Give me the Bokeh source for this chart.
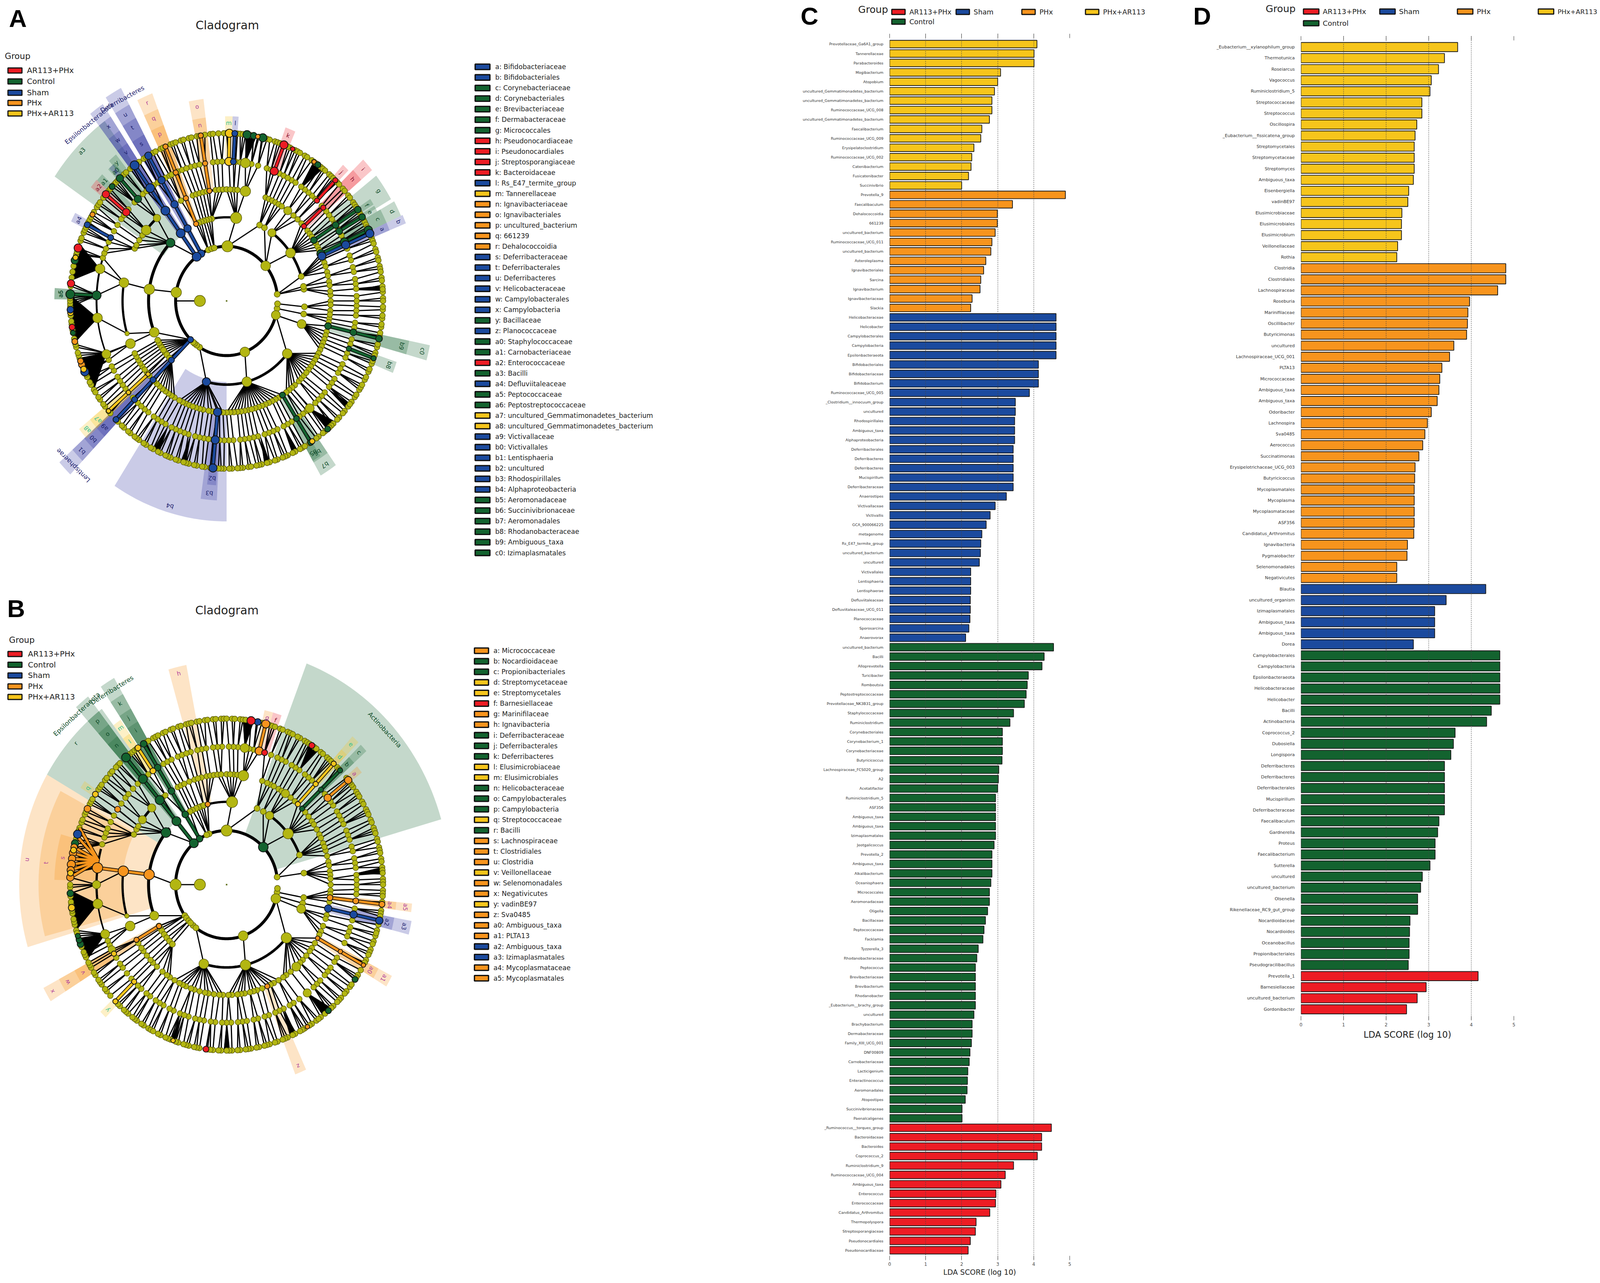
import numpy as np
from bokeh.core.properties import value
from bokeh.embed import file_html
from bokeh.layouts import column, row
from bokeh.models import AllLabels, ColumnDataSource, FixedTicker, Grid, LinearAxis, Range1d
from bokeh.plotting import figure
from bokeh.resources import INLINE

# ---------- bar data, panel C ----------
C_yellow_names = ["Prevotellaceae_Ga6A1_group", "Tannerellaceae", "Parabacteroides", "Mogibacterium", "Atopobium",
    "uncultured_Gemmatimonadetes_bacterium", "uncultured_Gemmatimonadetes_bacterium", "Ruminococcaceae_UCG_008",
    "uncultured_Gemmatimonadetes_bacterium", "Faecalibacterium", "Ruminococcaceae_UCG_009", "Erysipelatoclostridium",
    "Ruminococcaceae_UCG_002", "Catenibacterium", "Fusicatenibacter", "Succinivibrio"]
C_yellow_vals = [4.09, 4.01, 4.01, 3.08, 3.00, 2.91, 2.84, 2.84, 2.77, 2.56, 2.53, 2.34, 2.28, 2.26, 2.19, 2.00]
C_orange_names = ["Prevotella_9", "Faecalibaculum", "Dehalococcoidia", "661239", "uncultured_bacterium",
    "Ruminococcaceae_UCG_011", "uncultured_bacterium", "Asteroleplasma", "Ignavibacteriales", "Sarcina",
    "Ignavibacterium", "Ignavibacteriaceae", "Slackia"]
C_orange_vals = [4.88, 3.41, 2.99, 2.99, 2.93, 2.84, 2.81, 2.67, 2.61, 2.53, 2.51, 2.29, 2.25]
C_blue_names = ["Helicobacteraceae", "Helicobacter", "Campylobacterales", "Campylobacteria", "Epsilonbacteraeota",
    "Bifidobacteriales", "Bifidobacteriaceae", "Bifidobacterium", "Ruminococcaceae_UCG_005",
    "_Clostridium__innocuum_group", "uncultured", "Rhodospirillales", "Ambiguous_taxa", "Alphaproteobacteria",
    "Deferribacterales", "Deferribacteres", "Deferribacteres", "Mucispirillum", "Deferribacteraceae", "Anaerostipes",
    "Victivallaceae", "Victivallis", "GCA_900066225", "metagenome", "Rs_E47_termite_group", "uncultured_bacterium",
    "uncultured", "Victivallales", "Lentisphaeria", "Lentisphaerae", "Defluviitaleaceae",
    "Defluviitaleaceae_UCG_011", "Planococcaceae", "Sporosarcina", "Anaerovorax"]
C_blue_vals = [4.62, 4.62, 4.62, 4.62, 4.62, 4.13, 4.13, 4.13, 3.88, 3.49, 3.49, 3.47, 3.47, 3.47, 3.43, 3.43, 3.43,
    3.43, 3.43, 3.24, 2.93, 2.79, 2.68, 2.56, 2.53, 2.52, 2.49, 2.25, 2.25, 2.25, 2.24, 2.24, 2.23, 2.20, 2.11]
C_green_names = ["uncultured_bacterium", "Bacilli", "Alloprevotella", "Turicibacter", "Romboutsia",
    "Peptostreptococcaceae", "Prevotellaceae_NK3B31_group", "Staphylococcaceae", "Ruminiclostridium",
    "Corynebacteriales", "Corynebacterium_1", "Corynebacteriaceae", "Butyricicoccus", "Lachnospiraceae_FCS020_group",
    "A2", "Acetatifactor", "Ruminiclostridium_5", "ASF356", "Ambiguous_taxa", "Ambiguous_taxa", "Izimaplasmatales",
    "Jeotgalicoccus", "Prevotella_2", "Ambiguous_taxa", "Alkalibacterium", "Oceanisphaera", "Micrococcales",
    "Aeromonadaceae", "Oligella", "Bacillaceae", "Peptococcaceae", "Facklamia", "Tyzzerella_3", "Rhodanobacteraceae",
    "Peptococcus", "Brevibacteriaceae", "Brevibacterium", "Rhodanobacter", "_Eubacterium__brachy_group", "uncultured",
    "Brachybacterium", "Dermabacteraceae", "Family_XIII_UCG_001", "DNF00809", "Carnobacteriaceae", "Lacticigenium",
    "Enteractinococcus", "Aeromonadales", "Atopostipes", "Succinivibrionaceae", "Paenalcaligenes"]
C_green_vals = [4.55, 4.29, 4.23, 3.85, 3.82, 3.79, 3.74, 3.44, 3.34, 3.13, 3.13, 3.13, 3.12, 3.03, 3.02, 3.00, 2.94,
    2.94, 2.94, 2.94, 2.94, 2.90, 2.84, 2.84, 2.84, 2.81, 2.77, 2.77, 2.72, 2.66, 2.62, 2.59, 2.46, 2.42, 2.38, 2.38,
    2.38, 2.38, 2.38, 2.34, 2.29, 2.29, 2.27, 2.23, 2.21, 2.17, 2.16, 2.15, 2.10, 2.01, 2.01]
C_red_names = ["_Ruminococcus__torques_group", "Bacteroidaceae", "Bacteroides", "Coprococcus_2", "Ruminiclostridium_9",
    "Ruminococcaceae_UCG_004", "Ambiguous_taxa", "Enterococcus", "Enterococcaceae", "Candidatus_Arthromitus",
    "Thermopolyspora", "Streptosporangiaceae", "Pseudonocardiales", "Pseudonocardiaceae"]
C_red_vals = [4.49, 4.22, 4.22, 4.10, 3.44, 3.21, 3.09, 2.95, 2.94, 2.78, 2.40, 2.38, 2.24, 2.18]

# ---------- bar data, panel D ----------
D_yellow_names = ["_Eubacterium__xylanophilum_group", "Thermotunica", "Roseiarcus", "Vagococcus", "Ruminiclostridium_5",
    "Streptococcaceae", "Streptococcus", "Oscillospira", "_Eubacterium__fissicatena_group", "Streptomycetales",
    "Streptomycetaceae", "Streptomyces", "Ambiguous_taxa", "Eisenbergiella", "vadinBE97", "Elusimicrobiaceae",
    "Elusimicrobiales", "Elusimicrobium", "Veillonellaceae", "Rothia"]
D_yellow_vals = [3.68, 3.37, 3.23, 3.06, 3.03, 2.84, 2.84, 2.72, 2.68, 2.66, 2.66, 2.66, 2.64, 2.53, 2.51, 2.37, 2.36,
    2.36, 2.27, 2.25]
D_orange_names = ["Clostridia", "Clostridiales", "Lachnospiraceae", "Roseburia", "Marinifilaceae", "Oscillibacter",
    "Butyricimonas", "uncultured", "Lachnospiraceae_UCG_001", "PLTA13", "Micrococcaceae", "Ambiguous_taxa",
    "Ambiguous_taxa", "Odoribacter", "Lachnospira", "Sva0485", "Aerococcus", "Succinatimonas",
    "Erysipelotrichaceae_UCG_003", "Butyricicoccus", "Mycoplasmatales", "Mycoplasma", "Mycoplasmataceae", "ASF356",
    "Candidatus_Arthromitus", "Ignavibacteria", "Pygmaiobacter", "Selenomonadales", "Negativicutes"]
D_orange_vals = [4.81, 4.81, 4.62, 3.96, 3.92, 3.91, 3.89, 3.59, 3.49, 3.31, 3.26, 3.24, 3.20, 3.06, 2.97, 2.91, 2.86,
    2.77, 2.68, 2.67, 2.66, 2.66, 2.66, 2.66, 2.65, 2.50, 2.49, 2.25, 2.25]
D_blue_names = ["Blautia", "uncultured_organism", "Izimaplasmatales", "Ambiguous_taxa", "Ambiguous_taxa", "Dorea"]
D_blue_vals = [4.34, 3.41, 3.14, 3.14, 3.14, 2.64]
D_green_names = ["Campylobacterales", "Campylobacteria", "Epsilonbacteraeota", "Helicobacteraceae", "Helicobacter",
    "Bacilli", "Actinobacteria", "Coprococcus_2", "Dubosiella", "Longispora", "Deferribacteres", "Deferribacteres",
    "Deferribacterales", "Mucispirillum", "Deferribacteraceae", "Faecalibaculum", "Gardnerella", "Proteus",
    "Faecalibacterium", "Sutterella", "uncultured", "uncultured_bacterium", "Olsenella", "Rikenellaceae_RC9_gut_group",
    "Nocardioidaceae", "Nocardioides", "Oceanobacillus", "Propionibacteriales", "Pseudogracilibacillus"]
D_green_vals = [4.67, 4.67, 4.67, 4.67, 4.67, 4.47, 4.36, 3.62, 3.58, 3.52, 3.37, 3.37, 3.37, 3.37, 3.37, 3.24, 3.21,
    3.15, 3.15, 3.03, 2.85, 2.81, 2.74, 2.74, 2.56, 2.55, 2.54, 2.54, 2.52]
D_red_names = ["Prevotella_1", "Barnesiellaceae", "uncultured_bacterium", "Gordonibacter"]
D_red_vals = [4.16, 2.94, 2.73, 2.48]

# ---------- side legends ----------
A_side_names = ["a: Bifidobacteriaceae", "b: Bifidobacteriales", "c: Corynebacteriaceae", "d: Corynebacteriales",
    "e: Brevibacteriaceae", "f: Dermabacteraceae", "g: Micrococcales", "h: Pseudonocardiaceae", "i: Pseudonocardiales",
    "j: Streptosporangiaceae", "k: Bacteroidaceae", "l: Rs_E47_termite_group", "m: Tannerellaceae",
    "n: Ignavibacteriaceae", "o: Ignavibacteriales", "p: uncultured_bacterium", "q: 661239", "r: Dehalococcoidia",
    "s: Deferribacteraceae", "t: Deferribacterales", "u: Deferribacteres", "v: Helicobacteraceae",
    "w: Campylobacterales", "x: Campylobacteria", "y: Bacillaceae", "z: Planococcaceae", "a0: Staphylococcaceae",
    "a1: Carnobacteriaceae", "a2: Enterococcaceae", "a3: Bacilli", "a4: Defluviitaleaceae", "a5: Peptococcaceae",
    "a6: Peptostreptococcaceae", "a7: uncultured_Gemmatimonadetes_bacterium",
    "a8: uncultured_Gemmatimonadetes_bacterium", "a9: Victivallaceae", "b0: Victivallales", "b1: Lentisphaeria",
    "b2: uncultured", "b3: Rhodospirillales", "b4: Alphaproteobacteria", "b5: Aeromonadaceae",
    "b6: Succinivibrionaceae", "b7: Aeromonadales", "b8: Rhodanobacteraceae", "b9: Ambiguous_taxa",
    "c0: Izimaplasmatales"]
A_side_groups = list("BBGGGGGRRRRBYOOOOOBBBBBBGBGGRGBGGYYBBBBBBGGGGGG")
B_side_names = ["a: Micrococcaceae", "b: Nocardioidaceae", "c: Propionibacteriales", "d: Streptomycetaceae",
    "e: Streptomycetales", "f: Barnesiellaceae", "g: Marinifilaceae", "h: Ignavibacteria", "i: Deferribacteraceae",
    "j: Deferribacterales", "k: Deferribacteres", "l: Elusimicrobiaceae", "m: Elusimicrobiales", "n: Helicobacteraceae",
    "o: Campylobacterales", "p: Campylobacteria", "q: Streptococcaceae", "r: Bacilli", "s: Lachnospiraceae",
    "t: Clostridiales", "u: Clostridia", "v: Veillonellaceae", "w: Selenomonadales", "x: Negativicutes", "y: vadinBE97",
    "z: Sva0485", "a0: Ambiguous_taxa", "a1: PLTA13", "a2: Ambiguous_taxa", "a3: Izimaplasmatales",
    "a4: Mycoplasmataceae", "a5: Mycoplasmatales"]
B_side_groups = list("OGGYYROOGGGYYGGGYGOOOYOOYOOOBBOO")
group_names = ["AR113+PHx", "Control", "Sham", "PHx", "PHx+AR113"]
group_keys = ["R", "G", "B", "O", "Y"]

# ---------- cladogram A: angles (deg) of the small olive nodes on each ring ----------
A_ring5 = [0,1,3,4,5,7,8,10,11,12,14,15,17,18,20,21,22,24,26,27,28,29,31,32,34,35,36,38,39,41,42,44,45,47,48,49,51,52,
    53,55,56,57,59,60,62,63,64,66,67,70,71,72,74,75,77,78,80,81,83,84,85,86,90,91,93,95,96,98,100,101,103,104,106,107,
    109,110,111,114,115,117,118,121,122,124,127,128,130,131,134,135,136,138,139,141,142,144,145,146,148,150,151,152,
    154,155,156,158,159,163,164,165,168,170,172,174,175,179,180,181,182,184,185,187,188,190,191,193,195,196,198,199,
    200,202,203,205,206,207,209,210,212,213,215,216,218,219,221,222,225,226,228,229,231,232,234,235,236,238,239,241,
    242,244,245,247,248,249,251,252,254,255,256,258,259,261,262,264,265,267,268,269,271,272,274,275,276,278,279,281,
    282,283,285,286,288,289,291,292,293,295,296,298,299,300,302,303,305,306,308,309,311,312,313,315,316,318,319,321,
    322,323,325,326,328,329,330,332,333,335,336,338,339,341,342,344,345,347,348,349,351,352,354,355,357,358]
A_ring4 = [0,2,5,7,9,12,14,17,19,22,26,28,31,34,36,38,40,43,47,49,51,53,55,58,60,62,64,66,70,72,76,79,84,86,92,94,96,102,
    104,106,108,110,112,115,116,118,122,124,128,130,135,139,142,144,147,150,155,158,160,162,202,205,208,210,213,215,
    217,219,221,224,227,229,231,233,236,238,240,242,245,247,249,251,253,256,258,260,262,264,267,269,271,273,276,278,
    280,282,284,287,289,291,293,296,298,300,304,306,308,310,313,315,317,319,322,324,326,329,331,333,336,338,342,344,
    347,349,351,354,356,358]
A_ring3 = [0,3,5,8,10,13,15,18,20,22,27,29,31,35,37,39,44,47,50,58,60,62,64,66,68,84,86,88,90,92,94,96,101,103,105,107,
    109,116,144,147,150,152,208,210,212,214,216,218,220,222,226,228,230,232,234,236,238,240,243,245,247,249,251,253,
    255,257,260,262,266,268,270,272,274,276,278,280,282,284,286,288,290,292,294,296,298,300,305,307,309,311,314,316,
    318,320,322,324,326,328,330,332,334,336,338,340,342,344,349,351,353,355,358]
A_ring2 = [101,103,105,107,109,111,65,61,17,10,8,356,351,208,210,212,214,216,218,220,223]
A_ring1 = [7,357,352,238,234,231,229,111,107,104]
# bigger olive nodes: ring index, angle, radius
A_big = [(0,180,15),(1,89,15),(1,40,13),(1,345,12),(1,291,13),(1,171,14),(2,83,15),(2,35,13),(2,344,12),(2,321,13),
    (2,285,13),(2,172,14),(2,202,13),(2,54.5,11),(3,79.6,14),(3,54,11),(3,170.6,13),(3,202.5,13),(3,140.6,13),
    (3,132,10),(3,197,6),(4,166.7,13),(4,187,13),(4,202.4,12),(4,81.7,13),(4,309.7,12)]
# black arcs: ring index, start, end, line width
A_arcs = [(1,7,345,8),(2,137,202,8),(2,83,113,6),(2,17,54.5,7),(2,254,321,7),(3,170.6,197,6),(3,132,140.6,7),
    (3,79.6,100,6),(3,54,66,4),(3,255,288,5),(3,288,318,5),(4,153,187,5),(4,187,205,4)]
# solid black fans: ring of apex, apex angle, base start, base end
A_fans = [(4,166.7,160,173),(4,187,178,194.4),(4,202.4,200,212),(4,81.7,79,83),(4,54.5,52,56),(4,309.7,310,314),
    (4,-116.6,-118,-115.5),(4,-106,-107,-105),(4,-75,-76,-74),(4,-64,-65,-63),(4,4.5,3.5,5.5),(4,-39,-40,-38)]
# coloured clades: group, ring from, ring to, angle, node radius
A_chains = [("B",1,5,120,10),("B",1,5,126,12),("O",2,5,113,7),("O",3,5,99.5,7),("Y",4,5,89,11),("B",4,5,87,8),
    ("R",4,5,68.5,11),("R",3,4,42,7),("R",4,5,46,7),("G",3,5,33,9),("G",4,5,30,9),("G",3,5,25,11),("B",3,5,23.7,11),
    ("G",3,5,-13,9),("G",4,5,-20,7),("G",3,5,-57.5,8),("B",3,5,-95,11),("B",1,5,-135,8),("Y",3,5,-139,6),
    ("G",4,5,133,10),("R",4,5,140.5,10),("B",4,5,153,8),("G",4,5,177.7,12)]
# single coloured nodes: group, ring, angle, radius
A_dots = [("B",2,-105,11),("G",2,136,12),("Y",5,-56.8,7),("G",5,-49.8,8),("R",5,65,6),("R",5,161.6,11),("G",5,166,10),
    ("R",5,174,10),("O",5,149,7),("B",5,-155,11),("O",5,-157.7,9),("O",5,-159,8),("Y",5,-156,8),("G",5,-169,7),
    ("R",5,-171,8),("Y",5,-176,8),("B",5,-177,9),("O",5,-166,8),("G",5,82.5,11),("G",5,80,9),("G",5,76.6,11),
    ("O",5,78.5,6),("O",5,56,6),("G",5,54.3,8),("G",5,137,8),("Y",5,165,7)]
# shaded sectors: group, letter, inner radius, outer radius, start, end
A_sectors = [("G","a3",215,590,126,146),("B","b4",215,585,-123,-90),("B","b3",296,530,-98,-93),
    ("B","b2",370,490,-96.5,-93.5),("B","",148,640,118,122.5),("B","u",222,590,118,122.5),("B","t",296,550,118,122.5),
    ("B","s",370,500,118,122.5),("B","",148,630,124,128),("B","x",222,590,124,128),("B","w",296,545,124,128),
    ("B","v",370,505,124,128),("O","r",222,590,111,115.5),("O","q",296,545,111,115.5),("O","p",370,500,111,115.5),
    ("O","o",296,540,97,101.5),("O","n",370,490,97,101.5),("Y","m",370,490,88,90.5),("B","l",370,490,86,88),
    ("R","k",370,490,66.5,70),("R","i",296,540,40,44),("R","h",370,500,40,44),("R","j",445,490,45,47.5),
    ("G","g",296,540,30,38),("G","f",445,490,31.5,33.5),("G","e",445,490,29,31),("G","d",296,545,24.5,29),
    ("G","c",370,500,24.5,29),("B","b",296,550,22,24.5),("B","a",370,500,22,24.5),("G","c0",296,590,-15.5,-11.5),
    ("G","b9",370,530,-15.5,-11.5),("G","b8",370,510,-22,-18.5),("G","b7",296,535,-60,-54.5),
    ("G","b6",370,495,-60,-54.5),("G","b5",445,490,-60,-57),("B","",148,640,-138,-134),("B","b1",222,590,-138,-134),
    ("B","b0",296,545,-138,-134),("B","a9",370,500,-138,-134),("Y","a8",296,540,-141,-137.5),
    ("Y","a7",370,500,-141,-137.5),("G","a6",370,490,176,179.5),("G","a5",370,490,176,179.5),
    ("B","a4",445,490,151.5,154.5),("R","a2",370,490,139,142),("G","a1",370,488,136.5,139),("G","a0",445,485,131,134),
    ("B","z",445,485,131.5,133.5),("G","y",370,500,129,132)]
A_names = [("Epsilonbacteraeota",612,129.7,"B"),("Deferribacteres",612,119,"B"),("Lentisphaerae",617,-135,"B")]

# ---------- cladogram B ----------
B_ring5 = [0,1,2,4,5,6,8,9,11,12,13,15,16,18,19,20,22,23,25,26,27,29,30,32,33,34,36,37,38,40,44,45,48,49,50,52,53,55,56,
    58,59,60,62,63,65,66,67,69,70,72,73,74,77,79,83,84,85,87,88,90,91,92,94,95,97,98,100,101,103,104,105,107,108,110,
    111,113,114,116,117,118,120,121,125,126,127,128,133,134,135,137,138,140,141,143,144,145,149,150,151,154,155,157,
    158,160,161,164,180,181,183,184,186,187,189,190,192,193,194,196,197,199,200,201,202,204,205,206,208,209,210,212,
    213,215,216,217,219,220,222,226,227,229,230,231,233,234,235,237,238,240,241,242,244,245,247,248,249,251,252,254,
    255,256,258,259,260,263,264,265,267,268,270,271,272,274,275,277,278,279,281,282,284,285,286,288,289,291,292,293,
    295,296,298,299,300,302,303,305,306,307,309,312,313,315,316,317,319,320,322,323,325,326,327,329,332,333,335,336,
    337,339,340,342,343,344,346,349,350,351,353,354,356,357,358]
B_ring4 = [0,2,4,7,9,11,14,16,19,21,23,26,28,30,32,35,37,41,49,51,53,56,58,60,63,65,67,70,78,80,85,87,89,92,94,96,99,
    101,103,106,108,110,112,115,117,119,127,133,136,139,141,144,147,150,153,156,158,160,163,204,206,209,212,215,217,
    220,223,227,229,232,234,237,239,241,244,246,249,251,253,256,258,260,263,265,268,270,272,275,277,279,282,284,287,
    289,292,294,296,299,301,304,312,314,316,319,321,323,326,328,335,338,340,342,345,347,350,356,358]
B_ring3 = [0,3,5,7,10,12,15,18,20,22,25,27,30,33,35,38,41,49,52,58,60,63,65,67,70,84,86,88,90,93,95,97,99,101,104,106,
    108,111,114,116,118,126,128,148,150,153,212,215,217,220,223,225,228,232,235,237,240,243,245,247,250,252,255,258,
    260,263,266,268,271,273,276,278,280,283,285,287,290,295,297,300,303,305,308,315,317,320,323,325,328,333,335,338,
    342,344,351,355,357]
B_ring2 = [107,109,111,113,116,118,67,62,21,8,351,347,210,212,214,217,220,223,226]
B_ring1 = [8,356,352,348,233,229,225,222,218,215,113,110]
B_big = [(0,180,15),(1,90,15),(1,345,13),(1,180,15),(1,289,13),(2,86,15),(2,320,14),(2,284,14),(2,253,13),(2,38,14),
    (2,56.6,11),(2,202,12),(2,343,12),(3,80.7,14),(3,55.6,11),(3,136,11),(3,144,11),(3,202,13),(3,196.5,6),(3,312,12),
    (4,188,13),(4,201,12),(4,308.3,11),(4,82,12),(4,180,11),(4,208,10)]
B_arcs = [(1,8,345,8),(2,137,203,8),(2,86,115,6),(2,21,56.6,7),(2,253,320,7),(3,173,197,6),(3,136,144,7),(3,80.7,100,6),
    (3,55.6,68,4),(3,255,285,5),(3,285,312,5),(4,165,188,6),(4,188,205,4)]
B_fans = [(4,188,182,196),(4,201,199,207),(4,82,80,84),(4,56,54,58),(4,308.3,308,312),(4,-110,-111,-109),
    (4,-64.6,-66,-63.5),(4,4.7,3.5,6),(4,-90,-91,-89)]
B_chains = [("G",1,5,122,9),("G",1,5,130,12),("O",2,4,173,14),("Y",4,5,124.5,8),("Y",3,5,46.8,7),("G",3,5,43.5,7),
    ("O",4,5,39,10),("O",4,5,75.5,11),("O",3,5,-29,6),("O",3,5,-6.8,8),("B",3,5,-12.5,10),("O",2,3,-150,7),
    ("Y",4,5,-135.3,7)]
B_dots = [("G",2,141,13),("G",1,44,13),("R",4,73,8),("B",5,78.5,9),("R",5,81,11),("R",5,57,8),("Y",4,-150,7),
    ("O",2,104,7),("O",3,-67,7),("O",5,-58.9,6),("G",5,-49.4,8),("G",5,-34.8,8),("R",5,-97.6,8),("Y",5,-110,6),
    ("O",5,152.8,9),("O",4,146.9,8),("Y",5,147,8),("B",5,162.3,11),("G",5,165.6,10),("G",5,183,9),("Y",5,-172,9),
    ("G",5,-159,9),("G",5,-160.5,8),("G",5,-162,7),("O",5,167,9),("O",5,169,10),("O",5,171,10),("O",5,173,11),
    ("O",5,175,10),("O",5,177.5,10),("Y",5,168,8),("Y",5,176,8)]
B_fan_children = [160,163,167,169,171,173,175,177.5]
B_sectors = [("O","u",222,590,150,196.5),("O","t",296,535,152,195),("O","s",370,490,164,178.5),
    ("G","r",222,590,127,150),("G","",147,635,16,69),("O","h",222,600,101,106),("O","g",370,480,74,77),
    ("R","f",370,480,71,74),("G","",148,640,120,124),("G","k",222,590,120,124),("G","j",296,545,120,124),
    ("G","i",370,505,120,124),("G","",148,640,128,132),("G","p",222,590,128,132),("G","o",296,545,128,132),
    ("G","n",370,505,128,132),("Y","m",370,535,124.3,127),("Y","l",370,490,124.3,127),("Y","e",370,535,45.5,48),
    ("Y","d",370,488,45.5,48),("G","c",296,535,42,44.5),("G","b",370,488,42,44.5),("O","a",445,488,38,40.5),
    ("Y","q",445,490,145.5,148),("O","a5",296,530,-8,-5.5),("O","a4",370,485,-8,-5.5),("B","a3",296,535,-14.5,-10.5),
    ("B","a2",370,485,-14.5,-10.5),("O","a1",296,530,-31,-27.5),("O","a0",370,487,-31,-27.5),
    ("O","x",222,590,-152,-148),("O","w",296,540,-152,-148),("O","v",370,490,-152,-148),("Y","y",445,495,-136.5,-134),
    ("O","z",300,545,-69,-65.5)]
B_names = [("Actinobacteria",612,42.7,"G"),("Epsilonbacteraeota",625,133,"G"),("Deferribacteres",615,122,"G")]

# ---------- look ----------
COL = {"R": "#ED1C24", "G": "#13632F", "B": "#1B4A9E", "O": "#F7941D", "Y": "#F6C51B"}
SHADE = {"R": "#ED1C24", "G": "#13632F", "B": "#2A2F9E", "O": "#F7941D", "Y": "#F6C51B"}
LETTER = {"R": "#8A1030", "G": "#0F4D2A", "B": "#1F2470", "O": "#B0409A", "Y": "#2FBF90"}
OLIVE = "#B3B612"
OLIVE_EDGE = "#5C5D0A"
SANS = value("DejaVu Sans")
RINGS = [76, 145, 222, 296, 370, 445]

# the browser page is only 4096 px wide, so the picture's width is fitted into that
KX = 4550 / 4096
PAGE_H = 3284


def thick(v):
    return v / 1.05


def fs(v):
    return f"{v / KX:.1f}px"


def pt(c, r, a):
    t = np.deg2rad(a)
    return c[0] + r * np.cos(t), -c[1] + c[2] * r * np.sin(t)


def nearest(parents, a):
    parents = np.asarray(parents, dtype=float)
    d = np.abs((parents - a + 180) % 360 - 180)
    return parents[int(np.argmin(d))]


def draw_clade(p, c, small, big, arcs, fans, chains, dots, sectors, names, fan_children=None, fan_parent=None):
    # shaded sectors first, everything else sits on them
    xs, ys, cols, lab_x, lab_y, lab_t, lab_a, lab_c = [], [], [], [], [], [], [], []
    for g, letter, r0, r1, a0, a1 in sectors:
        angs = np.linspace(a0, a1, 30)
        o = [pt(c, r1, a) for a in angs]
        i = [pt(c, r0, a) for a in angs[::-1]]
        xs.append([q[0] for q in o + i])
        ys.append([q[1] for q in o + i])
        cols.append(SHADE[g])
        if letter:
            m = (a0 + a1) / 2
            x, y = pt(c, r1 - 18, m)
            lab_x.append(x); lab_y.append(y); lab_t.append(letter); lab_a.append(m - 90); lab_c.append(LETTER[g])
    p.patches(xs, ys, fill_color=cols, fill_alpha=0.25, line_color=None)

    # which angles exist on each ring
    on_ring = [list(s) for s in small]
    for ring, a, _ in big:
        on_ring[ring].append(a)
    for _, r0, r1, a, _ in chains:
        for ring in range(r0, r1 + 1):
            on_ring[ring].append(a)
    for _, ring, a, _ in dots:
        on_ring[ring].append(a)

    # spokes: every node hangs from the closest node one ring further in
    xs, ys = [], []
    for ring in range(2, 6):
        for a in on_ring[ring]:
            pa = nearest(on_ring[ring - 1], a)
            x0, y0 = pt(c, RINGS[ring - 1], pa)
            x1, y1 = pt(c, RINGS[ring], a)
            xs.append([x0, x1]); ys.append([y0, y1])
    x0, y0 = pt(c, RINGS[0], 180)
    x1, y1 = pt(c, RINGS[1], 180)
    xs.append([x0, x1]); ys.append([y0, y1])
    p.multi_line(xs, ys, line_color="black", line_width=thick(3.2))

    xs, ys = [], []
    for ring, apex, a0, a1 in fans:
        q = [pt(c, RINGS[ring], apex), pt(c, RINGS[5], a0), pt(c, RINGS[5], a1)]
        xs.append([v[0] for v in q]); ys.append([v[1] for v in q])
    p.patches(xs, ys, fill_color="black", line_color="black")

    xs, ys, w = [], [], []
    for ring, a0, a1, lw in arcs:
        q = [pt(c, RINGS[ring], a) for a in np.arange(a0, a1 + 0.5, 1.0)]
        xs.append([v[0] for v in q]); ys.append([v[1] for v in q]); w.append(thick(lw))
    p.multi_line(xs, ys, line_color="black", line_width=w)

    # olive nodes
    nx, ny, ns = [], [], []
    for ring, angs in enumerate(small):
        for a in angs:
            x, y = pt(c, RINGS[ring], a)
            nx.append(x); ny.append(y); ns.append(15 if ring >= 3 else 16)
    for ring, a, rad in big:
        x, y = pt(c, RINGS[ring], a)
        nx.append(x); ny.append(y); ns.append(2 * rad)
    order = np.argsort(ns)
    p.scatter([nx[i] for i in order], [ny[i] for i in order], size=[thick(ns[i]) for i in order], fill_color=OLIVE,
              line_color=OLIVE_EDGE, line_width=thick(1.5))

    # coloured branches with their nodes
    xs, ys, cols = [], [], []
    for g, r0, r1, a, _ in chains:
        q0, q1 = pt(c, RINGS[r0], a), pt(c, RINGS[r1], a)
        xs.append([q0[0], q1[0]]); ys.append([q0[1], q1[1]]); cols.append(COL[g])
    if fan_children:
        for a in fan_children:
            q0, q1 = pt(c, RINGS[4], fan_parent), pt(c, RINGS[5], a)
            xs.append([q0[0], q1[0]]); ys.append([q0[1], q1[1]]); cols.append(COL["O"])
    p.multi_line(xs, ys, line_color="black", line_width=thick(10))
    p.multi_line(xs, ys, line_color=cols, line_width=thick(6.5))
    nx, ny, ns, cols = [], [], [], []
    for g, r0, r1, a, rad in chains:
        for ring in range(r0, r1 + 1):
            x, y = pt(c, RINGS[ring], a)
            nx.append(x); ny.append(y); ns.append(thick(2 * rad)); cols.append(COL[g])
    for g, ring, a, rad in dots:
        x, y = pt(c, RINGS[ring], a)
        nx.append(x); ny.append(y); ns.append(thick(2 * rad)); cols.append(COL[g])
    p.scatter(nx, ny, size=ns, fill_color=cols, line_color="#111111", line_width=thick(2))

    x, y = pt(c, 0, 0)
    p.scatter([x], [y], size=4, marker="square", fill_color="#6B7A2A", line_color=None)
    p.text(lab_x, lab_y, text=lab_t, angle=lab_a, angle_units="deg", text_color=lab_c, text_font=SANS,
           text_font_size=fs(17), text_align="center", text_baseline="middle")
    for name, r, a, g in names:
        x, y = pt(c, r, a)
        p.text([x], [y], text=[name], angle=[a - 90], angle_units="deg", text_color=LETTER[g], text_font=SANS,
               text_font_size=fs(18), text_align="center", text_baseline="middle")


def swatches(p, x0, x1, ys, h, keys, lw=3):
    p.quad(left=[x0] * len(ys), right=[x1] * len(ys), top=[-y + h / 2 for y in ys], bottom=[-y - h / 2 for y in ys],
           fill_color=[COL[k] for k in keys], line_color="#111111", line_width=thick(lw))


def put_text(p, xs, ys, texts, size, align="left", font=SANS, style="normal", color="#222222"):
    p.text(xs, [-y for y in ys], text=texts, text_font=font, text_font_size=fs(size), text_align=align,
           text_baseline="middle", text_color=color, text_font_style=style)


def blank(x0, x1, y0, y1):
    # a figure whose data coordinates are the reference picture's pixels
    p = figure(width=round((x1 - x0) / KX), height=round(y1 - y0), x_range=Range1d(x0, x1), y_range=Range1d(-y1, -y0),
               output_backend="svg", toolbar_location=None, min_border=0, x_axis_type=None, y_axis_type=None,
               frame_align=False)
    p.grid.visible = False
    p.outline_line_color = None
    return p


# ---------- left part: panels A and B ----------
left = blank(0, 2230, 0, PAGE_H)
draw_clade(left, (644, 770, 0.965), [[], A_ring1, A_ring2, A_ring3, A_ring4, A_ring5], A_big, A_arcs, A_fans, A_chains,
           A_dots, A_sectors, A_names)
draw_clade(left, (644, 2264.5, 0.955), [[], B_ring1, B_ring2, B_ring3, B_ring4, B_ring5], B_big, B_arcs, B_fans,
           B_chains, B_dots, B_sectors, B_names, B_fan_children, 170)

put_text(left, [25, 20], [46, 1557], ["A", "B"], 70, font=value("Liberation Sans"), style="bold", color="black")
put_text(left, [646, 645], [64, 1562], ["Cladogram", "Cladogram"], 33, align="center")
put_text(left, [13, 25], [143, 1638], ["Group", "Group"], 24)
a_rows = [180, 208, 237, 263, 290]
b_rows = [1674, 1701.5, 1729, 1757, 1784]
swatches(left, 22, 62, a_rows, 13, group_keys)
swatches(left, 22, 62, b_rows, 13, group_keys)
put_text(left, [76] * 5, a_rows, group_names, 22)
put_text(left, [79] * 5, b_rows, group_names, 22)

a_side_y = [170.7 + 27.05 * i for i in range(len(A_side_names))]
b_side_y = [1665.6 + 27.05 * i for i in range(len(B_side_names))]
swatches(left, 1351, 1393, a_side_y, 14, A_side_groups, lw=3.5)
swatches(left, 1349, 1389, b_side_y, 14, B_side_groups, lw=3.5)
put_text(left, [1408] * len(a_side_y), a_side_y, A_side_names, 19)
put_text(left, [1403] * len(b_side_y), b_side_y, B_side_names, 19)


# ---------- bar panels ----------
def header(x0, x1, bottom, letter, letter_x, letter_y, group_x, group_y, row1, row2, cols, gap, sw, text_size,
           last_size):
    p = blank(x0, x1, 0, bottom)
    put_text(p, [letter_x], [letter_y], [letter], 70, align="center", font=value("Liberation Sans"), style="bold",
             color="black")
    put_text(p, [group_x], [group_y], ["Group"], 28, align="center")
    keys = ["R", "B", "O", "Y", "G"]
    labels = ["AR113+PHx", "Sham", "PHx", "PHx+AR113", "Control"]
    sizes = [text_size, text_size, text_size, last_size, text_size]
    xs = cols + [cols[0]]
    ys = [row1] * 4 + [row2]
    for k, t, x, y, s in zip(keys, labels, xs, ys, sizes):
        swatches(p, x, x + sw, [y], 13, [k])
        put_text(p, [x + sw + gap], [y], [t], s)
    return p


def bars(names, vals, keys, x0, x1, frame_l, frame_r, frame_t, frame_b, y_lo, y_hi, bar_h, font, lda_font, standoff,
         lda_standoff):
    labels = [n for group in names for n in group]
    scores = [v for group in vals for v in group]
    colours = [COL[k] for k, group in zip(keys, vals) for _ in group]
    src = ColumnDataSource(dict(y=list(range(len(labels))), score=scores, colour=colours))
    left_px = round((frame_l - x0) / KX)
    frame_w = round((frame_r - frame_l) / KX)
    total_w = round((x1 - x0) / KX)
    p = figure(frame_width=frame_w, frame_height=round(frame_b - frame_t), x_range=Range1d(0, 5),
               y_range=Range1d(y_hi, y_lo), output_backend="svg", toolbar_location=None, min_border_left=left_px,
               min_border_right=total_w - left_px - frame_w, min_border_bottom=50, min_border_top=0, y_axis_type=None,
               x_axis_type=None, frame_align=False)
    p.hbar(y="y", right="score", left=0, height=bar_h, fill_color="colour", line_color="#1A1A1A", line_width=thick(2),
           source=src)
    ticks = FixedTicker(ticks=[0, 1, 2, 3, 4, 5])
    below = LinearAxis(ticker=ticks, axis_label="LDA SCORE (log 10)")
    below.axis_line_color = None
    below.major_tick_in = 11
    below.major_tick_out = 0
    below.minor_tick_line_color = None
    below.major_tick_line_color = "#333333"
    below.major_label_text_font = "DejaVu Sans"
    below.major_label_text_font_size = fs(13)
    below.major_label_standoff = standoff
    below.axis_label_text_font = "DejaVu Sans"
    below.axis_label_text_font_size = fs(lda_font)
    below.axis_label_text_font_style = "normal"
    below.axis_label_text_color = "#222222"
    below.axis_label_standoff = lda_standoff
    p.add_layout(below, "below")
    above = LinearAxis(ticker=ticks, major_label_overrides={t: "" for t in [0, 1, 2, 3, 4, 5]}, major_label_standoff=0)
    above.axis_line_color = None
    above.major_tick_in = 11
    above.major_tick_out = 0
    above.minor_tick_line_color = None
    above.major_tick_line_color = "#333333"
    p.add_layout(above, "above")
    yax = LinearAxis(ticker=FixedTicker(ticks=list(range(len(labels)))),
                     major_label_overrides={i: n for i, n in enumerate(labels)}, major_label_policy=AllLabels())
    yax.axis_line_color = None
    yax.major_tick_line_color = None
    yax.minor_tick_line_color = None
    yax.major_label_standoff = 10
    yax.major_label_text_font = "DejaVu Sans"
    yax.major_label_text_font_size = fs(font)
    yax.major_label_text_color = "#333333"
    p.add_layout(yax, "left")
    p.grid.visible = False
    p.add_layout(Grid(dimension=0, ticker=ticks, grid_line_color="#444444", grid_line_dash="2 3",
                      grid_line_width=thick(1.5), level="overlay"))
    p.outline_line_color = None
    return p


c_head = header(2230, 3380, 86, "C", 2302, 40, 2483, 24, 30, 55, [2536, 2719, 2906, 3087], 12, 38, 19.8, 19.8)
c_bars = bars([C_yellow_names, C_orange_names, C_blue_names, C_green_names, C_red_names],
              [C_yellow_vals, C_orange_vals, C_blue_vals, C_green_vals, C_red_vals], ["Y", "O", "B", "G", "R"],
              2230, 3380, 2529.6, 3041.7, 86, 3226, -1.094, 129.05, 0.8, 10.5, 20.8, 5, 3)
d_head = header(3380, 4550, 92, "D", 3419, 40, 3642, 22, 29, 59, [3707, 3924, 4145, 4375], 11, 44, 20.3, 18.5)
d_bars = bars([D_yellow_names, D_orange_names, D_blue_names, D_green_names, D_red_names],
              [D_yellow_vals, D_orange_vals, D_blue_vals, D_green_vals, D_red_vals], ["Y", "O", "B", "G", "R"],
              3380, 4550, 3700, 4305.5, 92, 2612, -0.99, 88.0, 0.83, 12.3, 25, 6, 5)

page = row(left, column(c_head, c_bars), column(d_head, d_bars))
open("out.html", "w").write(file_html(page, INLINE))
